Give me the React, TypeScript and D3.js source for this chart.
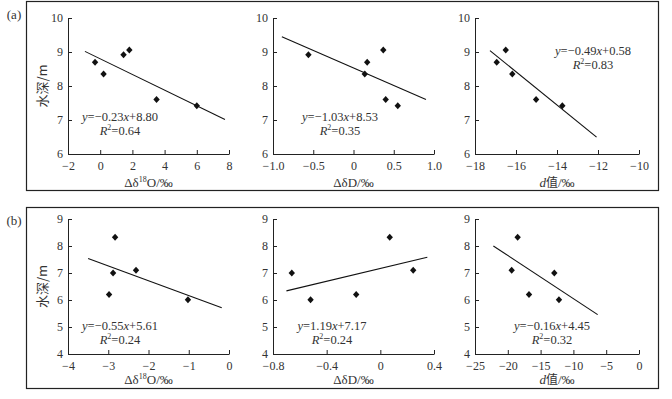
import React, { useEffect, useRef } from "react";
import * as d3 from "d3";

// (a) row: water depth with six samples
const depthA = [8.7, 8.35, 8.92, 9.06, 7.6, 7.42];
const dO18A = [-0.32, 0.21, 1.45, 1.81, 3.5, 6.0];
const dDA = [0.17, 0.14, -0.56, 0.37, 0.4, 0.55];
// d-excess has only five samples
const depthA3 = [8.7, 8.35, 9.06, 7.6, 7.42];
const dExcessA = [-16.94, -16.18, -16.5, -15.02, -13.74];

// (b) row
const depthB = [8.32, 7.0, 7.1, 6.2, 6.01];
const dO18B = [-2.83, -2.88, -2.31, -2.98, -1.02];
const dDB = [0.07, -0.66, 0.245, -0.18, -0.52];
const dExcessB = [-18.5, -12.91, -19.41, -16.77, -12.2];

// fits: [slope, intercept], and x extent of the drawn line
const fits = [
  { k: -0.23, b: 8.8, r2: "0.64", from: -0.95, to: 7.75 },
  { k: -1.03, b: 8.53, r2: "0.35", from: -0.89, to: 0.9 },
  { k: -0.49, b: 0.58, r2: "0.83", from: -17.27, to: -12.07 },
  { k: -0.55, b: 5.61, r2: "0.24", from: -3.5, to: -0.18 },
  { k: 1.19, b: 7.17, r2: "0.24", from: -0.7, to: 0.35 },
  { k: -0.16, b: 4.45, r2: "0.32", from: -22.2, to: -6.3 },
];

const xTicks = [
  [-2, 0, 2, 4, 6, 8],
  [-1, -0.5, 0, 0.5, 1],
  [-18, -16, -14, -12, -10],
  [-4, -3, -2, -1, 0],
  [-0.8, -0.4, 0, 0.4],
  [-25, -20, -15, -10, -5, 0],
];
const yTicksA = [6, 7, 8, 9, 10];
const yTicksB = [4, 5, 6, 7, 8, 9];

const cols = [
  [68, 229],
  [273, 434],
  [475, 639],
];
const rows = [
  { top: 18, bottom: 154, dom: [6, 10], ticks: yTicksA, box: [1, 190], title: 187, label: "(a)" },
  { top: 219, bottom: 354, dom: [4, 9], ticks: yTicksB, box: [207, 388], title: 384, label: "(b)" },
];

const intFmt = (v) => d3.format("d")(v);
const decFmt = (v) => (v === 0 ? "0" : d3.format(".1f")(v));

const charts = [
  { row: 0, col: 0, xs: dO18A, ys: depthA, xdom: [-2, 8], kind: "O", eq: [120, 117], fmt: intFmt },
  { row: 0, col: 1, xs: dDA, ys: depthA, xdom: [-1, 1], kind: "D", eq: [340, 117], fmt: decFmt },
  { row: 0, col: 2, xs: dExcessA, ys: depthA3, xdom: [-18, -10], kind: "d", eq: [593, 51], fmt: intFmt },
  { row: 1, col: 0, xs: dO18B, ys: depthB, xdom: [-4, 0], kind: "O", eq: [120, 326], fmt: intFmt },
  { row: 1, col: 1, xs: dDB, ys: depthB, xdom: [-0.8, 0.4], kind: "D", eq: [332, 326], fmt: decFmt },
  { row: 1, col: 2, xs: dExcessB, ys: depthB, xdom: [-25, 0], kind: "d", eq: [552, 326], fmt: intFmt },
];

const serif = "Liberation Serif, Times New Roman, serif";
const ink = "#333";

const App = () => {
  const ref = useRef(null);

  useEffect(() => {
    const svg = d3.select(ref.current);
    svg.selectAll("*").remove();

    rows.forEach((r) => {
      svg
        .append("rect")
        .attr("x", 26.5)
        .attr("y", r.box[0] + 0.5)
        .attr("width", 632)
        .attr("height", r.box[1] - r.box[0])
        .attr("fill", "none")
        .attr("stroke", "#222")
        .attr("stroke-width", 1.2);
      svg
        .append("text")
        .attr("x", 14)
        .attr("y", r.box[0] + 18)
        .attr("text-anchor", "middle")
        .attr("font-family", serif)
        .attr("font-size", 13)
        .attr("fill", ink)
        .text(r.label);
      svg
        .append("text")
        .attr("transform", `translate(47,${(r.top + r.bottom) / 2}) rotate(-90)`)
        .attr("text-anchor", "middle")
        .attr("font-family", "Noto Sans CJK SC, sans-serif")
        .attr("font-size", 13)
        .attr("fill", ink)
        .text("水深/m");
    });

    charts.forEach((c, i) => {
      const r = rows[c.row];
      const [x0, x1] = cols[c.col];
      const x = d3.scaleLinear().domain(c.xdom).range([x0, x1]);
      const y = d3.scaleLinear().domain(r.dom).range([r.bottom, r.top]);
      const g = svg.append("g");

      const yAxis = d3
        .axisLeft(y)
        .tickValues(r.ticks)
        .tickSize(-4)
        .tickSizeOuter(0)
        .tickPadding(5)
        .tickFormat(intFmt);
      const xAxis = d3
        .axisBottom(x)
        .tickValues(xTicks[i])
        .tickSize(-4)
        .tickSizeOuter(0)
        .tickPadding(7)
        .tickFormat((v) => c.fmt(v).replace("-", "−"));

      [
        g.append("g").attr("transform", `translate(${x0},0)`).call(yAxis),
        g.append("g").attr("transform", `translate(0,${r.bottom})`).call(xAxis),
      ].forEach((ax) => {
        ax.attr("font-family", serif);
        ax.selectAll("path,line").attr("stroke", "#222").attr("stroke-width", 1);
        ax.selectAll("text").attr("font-family", serif).attr("font-size", 12).attr("fill", ink);
      });

      // fit line
      const f = fits[i];
      g.append("path")
        .attr(
          "d",
          d3
            .line()
            .x((v) => x(v))
            .y((v) => y(f.k * v + f.b))([f.from, f.to])
        )
        .attr("stroke", "#111")
        .attr("stroke-width", 1.1)
        .attr("fill", "none");

      // points
      g.selectAll(".pt")
        .data(c.xs)
        .join("path")
        .attr("class", "pt")
        .attr("d", d3.symbol(d3.symbolDiamond2, 26)())
        .attr("transform", (v, j) => `translate(${x(v)},${y(c.ys[j])}) scale(1,1.1)`)
        .attr("fill", "#111");

      // equation
      const eq = g
        .append("text")
        .attr("x", c.eq[0])
        .attr("y", c.eq[1] + 4)
        .attr("text-anchor", "middle")
        .attr("font-family", serif)
        .attr("font-size", 12.5)
        .attr("fill", ink);
      eq.append("tspan").attr("font-style", "italic").text("y");
      eq.append("tspan").text("=" + (f.k < 0 ? "−" : "") + Math.abs(f.k).toFixed(2));
      eq.append("tspan").attr("font-style", "italic").text("x");
      eq.append("tspan").text("+" + f.b.toFixed(2));

      const r2 = g
        .append("text")
        .attr("x", c.eq[0])
        .attr("y", c.eq[1] + 18)
        .attr("text-anchor", "middle")
        .attr("font-family", serif)
        .attr("font-size", 12.5)
        .attr("fill", ink);
      r2.append("tspan").attr("font-style", "italic").text("R");
      r2.append("tspan").attr("font-size", 8).attr("dy", -5).text("2");
      r2.append("tspan").attr("dy", 5).text("=" + f.r2);

      // x title
      const t = g
        .append("text")
        .attr("x", (x0 + x1) / 2)
        .attr("y", r.title)
        .attr("text-anchor", "middle")
        .attr("font-family", serif)
        .attr("font-size", 13)
        .attr("fill", ink);
      if (c.kind === "O") {
        t.append("tspan").text("Δδ");
        t.append("tspan").attr("font-size", 8).attr("dy", -5).text("18");
        t.append("tspan").attr("dy", 5).text("O/‰");
      } else if (c.kind === "D") {
        t.append("tspan").text("ΔδD/‰");
      } else {
        t.append("tspan").attr("font-style", "italic").text("d");
        t.append("tspan").attr("font-family", "Noto Sans CJK SC, sans-serif").attr("font-size", 12).text("值");
        t.append("tspan").text("/‰");
      }
    });
  }, []);

  return (
    <svg
      ref={ref}
      width={672}
      height={399}
      style={{ position: "absolute", left: 0, top: 0, background: "#fff" }}
    />
  );
};

export default App;
